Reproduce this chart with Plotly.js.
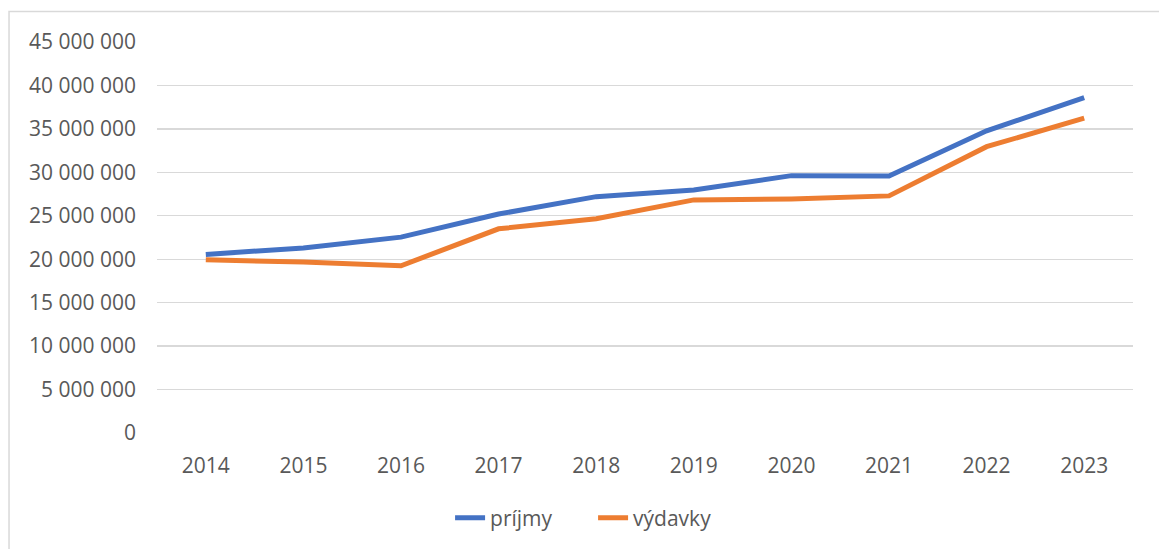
<!DOCTYPE html>
<html>
<head>
<meta charset="utf-8">
<script src="https://cdn.plot.ly/plotly-3.0.1.min.js"></script>
<style>
html,body{margin:0;padding:0;background:#fff;}
#chart{width:1159px;height:549px;}
</style>
</head>
<body>
<div id="chart"></div>
<script>
const years = ['2014','2015','2016','2017','2018','2019','2020','2021','2022','2023'];
const prijmy = [20550000, 21300000, 22540000, 25200000, 27200000, 27970000, 29620000, 29580000, 34780000, 38610000];
const vydavky = [19940000, 19670000, 19250000, 23500000, 24650000, 26830000, 26940000, 27290000, 32950000, 36240000];
const seriesNames = ['príjmy', 'výdavky'];

const font = {family: '"Open Sans", "Noto Sans", sans-serif', size: 21, color: '#595959'};

const traces = [
  {x: years, y: prijmy, name: seriesNames[0], type: 'scatter', mode: 'lines',
   line: {color: '#4472C4', width: 5, shape: 'linear'}},
  {x: years, y: vydavky, name: seriesNames[1], type: 'scatter', mode: 'lines',
   line: {color: '#ED7D31', width: 5, shape: 'linear'}}
];

const layout = {
  width: 1159, height: 549,
  margin: {l: 157, r: 26, t: 42, b: 115},
  paper_bgcolor: '#ffffff', plot_bgcolor: '#ffffff',
  font: font,
  separators: ', ',
  showlegend: true,
  legend: {orientation: 'h', x: 0.4468, xanchor: 'center', y: -0.2146, yanchor: 'middle',
           font: font, itemwidth: 30, tracegroupgap: 0, entrywidth: 98},
  xaxis: {type: 'category', range: [-0.5, 9.5], showgrid: false, zeroline: false, showline: false,
          ticks: '', tickfont: font, ticklabelstandoff: 18, fixedrange: true},
  yaxis: {range: [0, 45000000], dtick: 5000000, tick0: 0, tickformat: ',d',
          showgrid: true, gridcolor: '#d9d9d9', gridwidth: 1.3, zeroline: false, showline: false,
          ticks: '', tickfont: font, ticklabelstandoff: 20, fixedrange: true},
  shapes: [
    {type: 'rect', xref: 'paper', yref: 'paper', x0: -0.1516, x1: 1.05, y0: -0.32, y1: 1.0779,
     line: {color: '#d9d9d9', width: 1.5}, fillcolor: 'rgba(0,0,0,0)', layer: 'below'}
  ]
};

Plotly.newPlot('chart', traces, layout, {displayModeBar: false, staticPlot: true});
</script>
</body>
</html>
